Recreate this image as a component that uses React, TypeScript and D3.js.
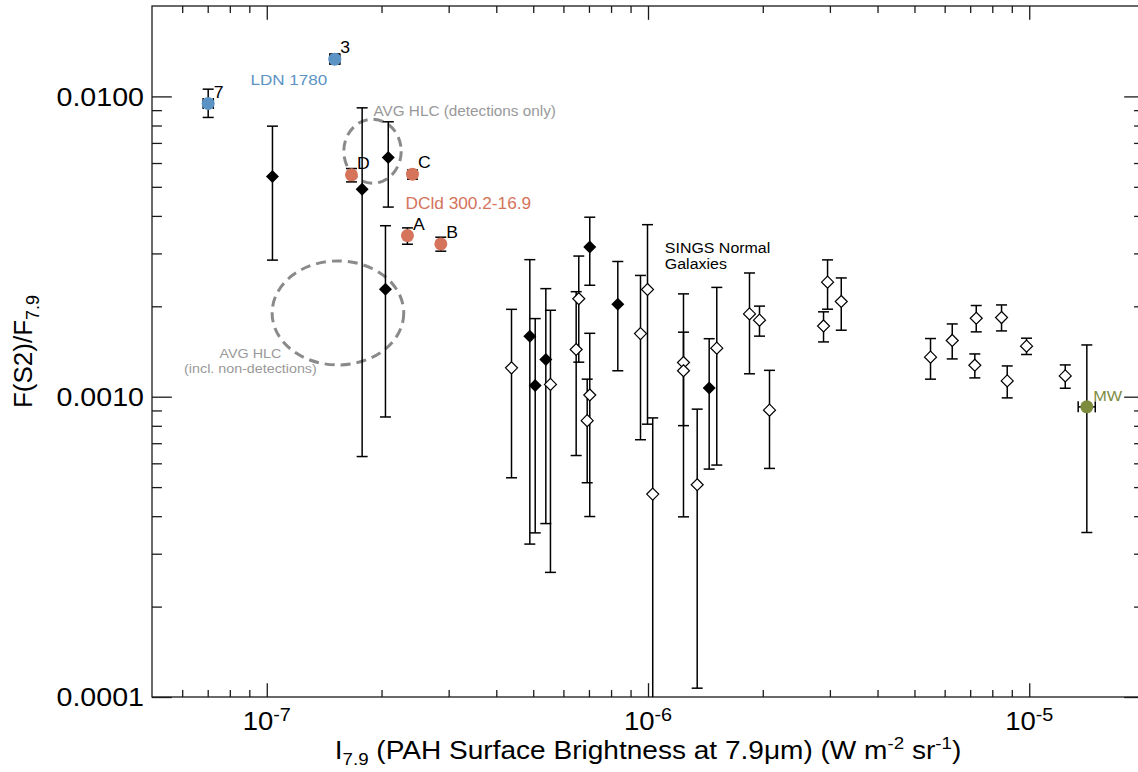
import React, { useRef, useEffect } from "react";
import * as d3 from "d3";

// filled diamonds
const filledX = [1.035e-7, 2.083e-7, 1.779e-7, 2.048e-7, 4.898e-7, 5.06e-7, 5.395e-7, 7.035e-7, 8.333e-7, 1.447e-6];
const filledY = [0.00541, 0.00626, 0.00491, 0.00228, 0.00159, 0.00109, 0.00133, 0.00315, 0.00203, 0.00107];
const filledLo = [0.00285, 0.00428, 0.000632, 0.000856, 0.000323, 0.000352, 0.000378, 0.00235, 0.00122, 0.000574];
const filledHi = [0.00796, 0.00823, 0.00916, 0.00371, 0.00286, 0.00182, 0.00229, 0.00396, 0.00282, 0.00156];

// SINGS normal galaxies (open diamonds)
const openX = [4.385e-7, 5.548e-7, 6.583e-7, 6.48e-7, 7.035e-7, 6.926e-7, 9.557e-7, 9.97e-7, 1.029e-6, 1.239e-6, 1.239e-6, 1.346e-6, 1.515e-6, 1.846e-6, 1.961e-6, 2.083e-6, 2.958e-6, 2.887e-6, 3.213e-6, 5.509e-6, 6.281e-6, 7.261e-6, 7.199e-6, 8.46e-6, 8.755e-6, 9.838e-6, 1.243e-5];
const openY = [0.001248, 0.001099, 0.00212, 0.001436, 0.001013, 0.000832, 0.001622, 0.002275, 0.000474, 0.0013, 0.00122, 0.000509, 0.001451, 0.001887, 0.001798, 0.000902, 0.002406, 0.00172, 0.002075, 0.001354, 0.001539, 0.001825, 0.001273, 0.001835, 0.001129, 0.001473, 0.001173];
const openLo = [0.000537, 0.00026, 0.001303, 0.000637, 0.000399, 0.000517, 0.000719, 0.00081, 0.00005, 0.000801, 0.000398, 0.000107, 0.000592, 0.001192, 0.001591, 0.000577, 0.001956, 0.001522, 0.001665, 0.001144, 0.001336, 0.001644, 0.001155, 0.001656, 0.000991, 0.001382, 0.001067];
const openHi = [0.001954, 0.00194, 0.00294, 0.002237, 0.001626, 0.001144, 0.002534, 0.00374, 0.00085, 0.0022, 0.00164, 0.000909, 0.002312, 0.002582, 0.002003, 0.001224, 0.002855, 0.001917, 0.002486, 0.001562, 0.001747, 0.002012, 0.001388, 0.002021, 0.001266, 0.001566, 0.001276];

// LDN 1780
const ldnNames = ["7", "3"];
const ldnX = [7.02e-8, 1.508e-7];
const ldnY = [0.00947, 0.0133];
const ldnLo = [0.00851, 0.01282];
const ldnHi = [0.01057, 0.01385];
const ldnXLo = [6.81e-8, 1.463e-7];
const ldnXHi = [7.24e-8, 1.555e-7];

// DCld 300.2-16.9
const dcldNames = ["A", "B", "C", "D"];
const dcldX = [2.339e-7, 2.861e-7, 2.411e-7, 1.668e-7];
const dcldY = [0.003441, 0.003227, 0.005508, 0.005479];
const dcldLo = [0.003219, 0.003052, 0.0053, 0.005191];
const dcldHi = [0.003649, 0.003397, 0.00569, 0.005752];

// Milky Way
const mwX = [1.416e-5];
const mwY = [0.000925];
const mwLo = [0.000353];
const mwHi = [0.001487];
const mwXLo = [1.344e-5];
const mwXHi = [1.49e-5];

// AVG HLC ellipses: centre and half-size in dex
const hlcX = [1.894e-7, 1.537e-7];
const hlcY = [0.006569, 0.001901];
const hlcDexX = [0.0753, 0.1726];
const hlcDexY = [0.1066, 0.1732];

const xMajor = [1e-7, 1e-6, 1e-5];
const xLabels = ["-7", "-6", "-5"];
const yMajor = [1e-4, 1e-3, 1e-2];
const yLabels = ["0.0001", "0.0010", "0.0100"];

const FONT = "'Liberation Sans', Arial, Helvetica, sans-serif";
const BLUE = "#5b93c4";
const RED = "#d5735b";
const GREEN = "#7d8b3d";
const GRAY = "#8a8a8a";

const App = () => {
  const svgRef = useRef(null);

  useEffect(() => {
    document.body.style.margin = "0";
    const svg = d3.select(svgRef.current);
    svg.selectAll("*").remove();

    const left = 152, right = 1144, top = 6, bottom = 697;
    const x = d3.scaleLog().domain([5e-8, 2e-5]).range([left, right]);
    const y = d3.scaleLog().domain([1e-4, 2e-2]).range([bottom, top]);

    const minor = (dom, majors) => {
      const out = [];
      [majors[0] / 10, ...majors].forEach((d) => {
        for (let m = 2; m <= 9; m++) {
          const v = d * m;
          if (v > dom[0] * 1.0001 && v < dom[1] * 0.9999) out.push(v);
        }
      });
      return out;
    };
    const xMinor = minor(x.domain(), xMajor);
    const yMinor = minor(y.domain(), yMajor);

    svg.append("defs").append("clipPath").attr("id", "plotclip")
      .append("rect").attr("x", left).attr("y", top).attr("width", right - left).attr("height", bottom - top);

    const ink = "#1a1a1a";
    const xLen = 0.02 * (bottom - top);
    const yLen = 0.02 * (right - left);

    // axes (inward ticks on all four sides)
    const axes = svg.append("g");
    const axisStyle = (g) => {
      g.select(".domain").remove();
      g.selectAll("line").attr("stroke", ink).attr("stroke-width", 1.3);
    };
    [[xMajor, xLen], [xMinor, xLen / 2]].forEach(([vals, len]) => {
      axes.append("g").attr("transform", `translate(0,${bottom})`)
        .call(d3.axisBottom(x).tickValues(vals).tickSize(-len).tickFormat(() => "")).call(axisStyle);
      axes.append("g").attr("transform", `translate(0,${top})`)
        .call(d3.axisTop(x).tickValues(vals).tickSize(-len).tickFormat(() => "")).call(axisStyle);
    });
    [[yMajor, yLen], [yMinor, yLen / 2]].forEach(([vals, len]) => {
      axes.append("g").attr("transform", `translate(${left},0)`)
        .call(d3.axisLeft(y).tickValues(vals).tickSize(-len).tickFormat(() => "")).call(axisStyle);
      axes.append("g").attr("transform", `translate(${right},0)`)
        .call(d3.axisRight(y).tickValues(vals).tickSize(-len).tickFormat(() => "")).call(axisStyle);
    });
    axes.append("rect").attr("x", left).attr("y", top).attr("width", right - left).attr("height", bottom - top)
      .attr("fill", "none").attr("stroke", ink).attr("stroke-width", 1.3);

    // text with the horizontal stretch of the original figure
    const stretched = (px, py, anchor, size) =>
      svg.append("text").attr("transform", `translate(${px},${py}) scale(1.1,1)`)
        .attr("text-anchor", anchor).attr("font-family", FONT).attr("font-size", size).attr("fill", "#000");

    yMajor.forEach((v, i) => {
      stretched(left - 8, y(v), "end", 26).attr("dy", "0.36em").text(yLabels[i]);
    });
    xMajor.forEach((v, i) => {
      const t = stretched(x(v), 730, "middle", 25);
      t.append("tspan").text("10");
      t.append("tspan").attr("font-size", 18).attr("dy", -9).text(xLabels[i]);
    });

    // axis titles
    const xt = stretched((left + right) / 2, 758.5, "middle", 25.5);
    xt.append("tspan").text("I");
    xt.append("tspan").attr("font-size", 17).attr("dy", 6).text("7.9");
    xt.append("tspan").attr("dy", -6).text(" (PAH Surface Brightness at 7.9\u03bcm) (W m");
    xt.append("tspan").attr("font-size", 17).attr("dy", -10).text("-2");
    xt.append("tspan").attr("dy", 10).text(" sr");
    xt.append("tspan").attr("font-size", 17).attr("dy", -10).text("-1");
    xt.append("tspan").attr("dy", 10).text(")");

    const yt = svg.append("text").attr("transform", `translate(32,${(top + bottom) / 2}) rotate(-90)`)
      .attr("text-anchor", "middle").attr("font-family", FONT).attr("font-size", 26);
    yt.append("tspan").text("F(S2)/F");
    yt.append("tspan").attr("font-size", 18).attr("dy", 7).text("7.9");

    const plot = svg.append("g").attr("clip-path", "url(#plotclip)");

    // ellipses
    hlcX.forEach((cx, i) => {
      const px = x(cx), py = y(hlcY[i]);
      plot.append("ellipse").attr("cx", px).attr("cy", py)
        .attr("rx", x(cx * Math.pow(10, hlcDexX[i])) - px)
        .attr("ry", py - y(hlcY[i] * Math.pow(10, hlcDexY[i])))
        .attr("fill", "none").attr("stroke", GRAY).attr("stroke-width", 3).attr("stroke-dasharray", "10,6");
    });

    const cap = 5.5;
    const vbar = (g, xv, lo, hi) => {
      const px = x(xv);
      g.append("line").attr("x1", px).attr("x2", px).attr("y1", y(lo)).attr("y2", y(hi));
      g.append("line").attr("x1", px - cap).attr("x2", px + cap).attr("y1", y(lo)).attr("y2", y(lo));
      g.append("line").attr("x1", px - cap).attr("x2", px + cap).attr("y1", y(hi)).attr("y2", y(hi));
    };
    const hbar = (g, yv, lo, hi) => {
      const py = y(yv);
      g.append("line").attr("x1", x(lo)).attr("x2", x(hi)).attr("y1", py).attr("y2", py);
      g.append("line").attr("x1", x(lo)).attr("x2", x(lo)).attr("y1", py - cap).attr("y2", py + cap);
      g.append("line").attr("x1", x(hi)).attr("x2", x(hi)).attr("y1", py - cap).attr("y2", py + cap);
    };
    const bars = plot.append("g").attr("stroke", "#000").attr("stroke-width", 1.5);

    openX.forEach((v, i) => vbar(bars, v, openLo[i], openHi[i]));
    filledX.forEach((v, i) => vbar(bars, v, filledLo[i], filledHi[i]));
    dcldX.forEach((v, i) => vbar(bars, v, dcldLo[i], dcldHi[i]));
    ldnX.forEach((v, i) => {
      vbar(bars, v, ldnLo[i], ldnHi[i]);
      hbar(bars, ldnY[i], ldnXLo[i], ldnXHi[i]);
    });
    mwX.forEach((v, i) => {
      vbar(bars, v, mwLo[i], mwHi[i]);
      hbar(bars, mwY[i], mwXLo[i], mwXHi[i]);
    });

    const diamond = (s) => `M0,${-s}L${s},0L0,${s}L${-s},0Z`;
    openX.forEach((v, i) => {
      plot.append("path").attr("d", diamond(6)).attr("transform", `translate(${x(v)},${y(openY[i])})`)
        .attr("fill", "#fff").attr("stroke", "#000").attr("stroke-width", 1.2);
    });
    filledX.forEach((v, i) => {
      plot.append("path").attr("d", diamond(6.5)).attr("transform", `translate(${x(v)},${y(filledY[i])})`)
        .attr("fill", "#000");
    });
    dcldX.forEach((v, i) => {
      plot.append("circle").attr("cx", x(v)).attr("cy", y(dcldY[i])).attr("r", 6.5).attr("fill", RED);
    });
    ldnX.forEach((v, i) => {
      plot.append("circle").attr("cx", x(v)).attr("cy", y(ldnY[i])).attr("r", 6.5).attr("fill", BLUE);
    });
    mwX.forEach((v, i) => {
      plot.append("circle").attr("cx", x(v)).attr("cy", y(mwY[i])).attr("r", 6.5).attr("fill", GREEN);
    });

    // annotations
    ldnX.forEach((v, i) => stretched(x(v) + 5.5, y(ldnY[i]) - 6, "start", 16).text(ldnNames[i]));
    dcldX.forEach((v, i) => stretched(x(v) + 5.5, y(dcldY[i]) - 6, "start", 16).text(dcldNames[i]));
    stretched(x(9.06e-8), y(0.01094), "start", 15.5).attr("fill", BLUE).text("LDN 1780");
    stretched(x(2.311e-7), y(0.00421), "start", 15.7).attr("fill", RED).text("DCld 300.2-16.9");
    stretched(x(1.905e-7), y(0.00859), "start", 13.9).attr("fill", "#999").text("AVG HLC (detections only)");

    // two-line labels, spaced just enough to keep the lines apart
    const hlcNote = stretched(x(9.06e-8), y(0.001345), "middle", 13).attr("fill", "#999");
    hlcNote.append("tspan").attr("x", 0).text("AVG HLC");
    hlcNote.append("tspan").attr("x", 0).attr("dy", 14.8).text("(incl. non-detections)");
    const singsNote = stretched(x(1.107e-6), y(0.00302), "start", 14.5);
    singsNote.append("tspan").attr("x", 0).text("SINGS Normal");
    singsNote.append("tspan").attr("x", 0).attr("dy", 16.4).text("Galaxies");

    mwX.forEach((v, i) => stretched(x(v) + 6.4, y(mwY[i]) - 6, "start", 14.8).attr("fill", GREEN).text("MW"));
  }, []);

  return <svg ref={svgRef} width={1138} height={772} style={{ display: "block", background: "#fff" }} />;
};

export default App;
